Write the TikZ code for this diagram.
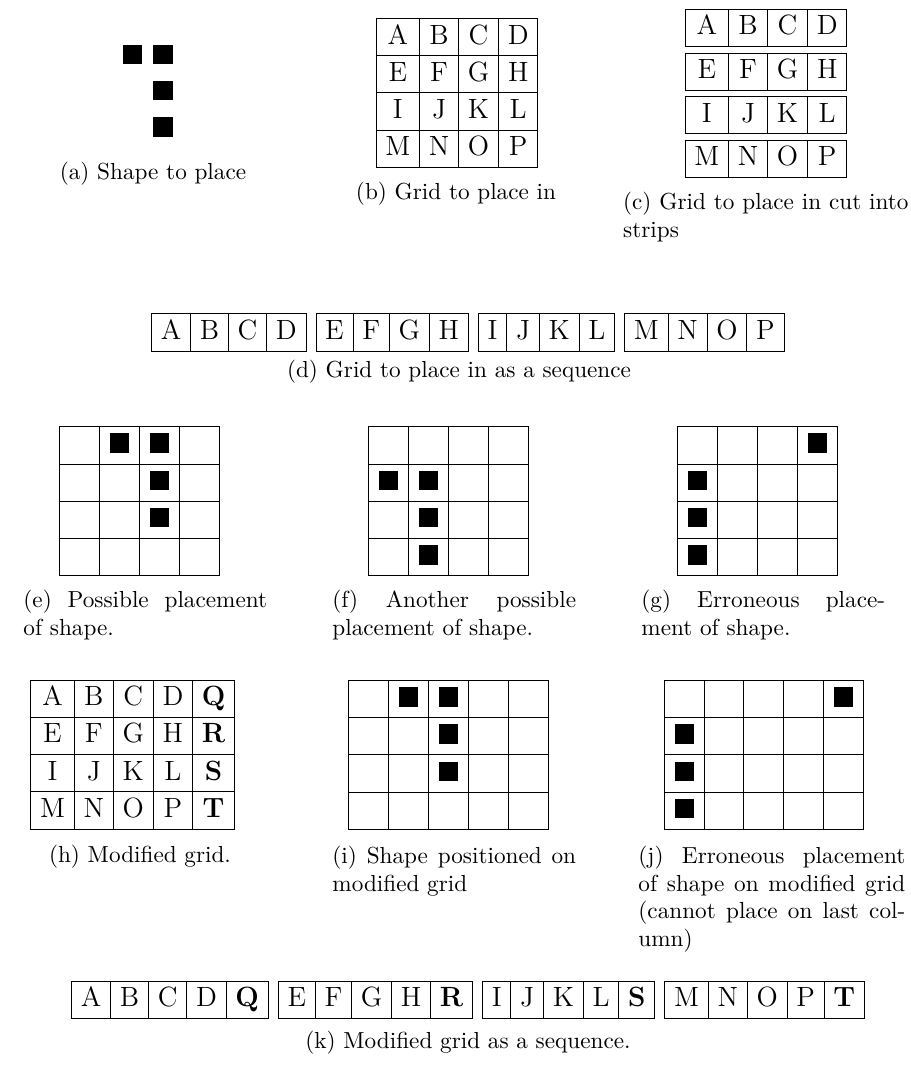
\documentclass[tikz,border=0pt]{standalone}
\usepackage{tikz}
\usetikzlibrary{positioning}

\begin{document}
\begin{tikzpicture}[x=0.431pt, y=-0.431pt,
    cell/.style={draw, line width=0.4pt, inner xsep=4pt, inner ysep=0.5pt,
      text height=10.5pt, text depth=4.5pt, outer sep=0pt,
      font=\fontsize{12}{14.4}\selectfont},
    gcell/.style={cell, inner xsep=0pt},
    col1/.style={minimum width=18.8pt}, col2/.style={minimum width=16.8pt},
    col3/.style={minimum width=17.2pt}, col4/.style={minimum width=17pt},
    col5/.style={minimum width=18pt},
    box/.style={draw, line width=0.4pt},
    subcap/.style={font=\fontsize{10}{12}\selectfont, inner sep=0pt},
    subcapbox/.style={subcap, anchor=north west, align=justify, text width=#1}]
  \useasboundingbox (0,0) rectangle (911,1067);

  % (a) shape to place
  \foreach \x/\y in {122.7/45, 153.3/45, 153.3/81, 153.3/117.3}
    \fill (\x,\y) rectangle +(19.4,19.4);
  \node[subcap, anchor=base] (capA) at (153,179) {(a) Shape to place};

  % (b) grid to place in
  \foreach \row [count=\r] in {{A,B,C,D},{E,F,G,H},{I,J,K,L},{M,N,O,P}} {
    \coordinate (b-\r-0) at (376, 37.15*\r);
    \foreach \l [count=\c, remember=\c as \p (initially 0)] in \row
      \node[gcell, col\c, right=0pt of b-\r-\p] (b-\r-\c) {\l};
  }
  \node[subcap, anchor=base] (capB) at (456,199) {(b) Grid to place in};

  % (c) same grid cut into strips
  \foreach \row [count=\r] in {{A,B,C,D},{E,F,G,H},{I,J,K,L},{M,N,O,P}} {
    \coordinate (c-\r-0) at (685, 43.6*\r-15.6);
    \foreach \l [count=\c, remember=\c as \p (initially 0)] in \row
      \node[gcell, col\c, right=0pt of c-\r-\p] (c-\r-\c) {\l};
  }
  \node[subcapbox=123pt] (capC) at (622.7,191.9) {(c) Grid to place in cut into\linebreak strips};

  % (d) strips laid out as a sequence
  \coordinate (d-0) at (151.5,332.5);
  \foreach \l [count=\i, remember=\i as \p (initially 0)] in {A,...,P} {
    \pgfmathsetmacro\g{(mod(\i,4)==1)*(\i>1)*4.3}
    \node[cell, right=\g pt of d-\p] (d-\i) {\l};
  }
  \node[subcap, anchor=base] (capD) at (459,377) {(d) Grid to place in as a sequence};

  % (e) possible placement
  \foreach \c in {0,...,3} \foreach \r in {0,...,3}
    \draw[box] (59.3+40*\c, 426.7+37.3*\r) rectangle +(40,37.3);
  \foreach \c/\r in {1/0,2/0,2/1,2/2}
    \fill (69.6+40*\c, 433.3+37.3*\r) rectangle +(19.4,19.4);
  \node[subcapbox=105pt] (capE) at (23,589.3) {(e) Possible placement\linebreak of shape.};

  % (f) another possible placement
  \foreach \c in {0,...,3} \foreach \r in {0,...,3}
    \draw[box] (368.3+40*\c, 426.7+37.3*\r) rectangle +(40,37.3);
  \foreach \c/\r in {0/1,1/1,1/2,1/3}
    \fill (378.6+40*\c, 433.3+37.3*\r) rectangle +(19.4,19.4);
  \node[subcapbox=105pt] (capF) at (332,589.3) {(f) Another possible\linebreak placement of shape.};

  % (g) erroneous placement
  \foreach \c in {0,...,3} \foreach \r in {0,...,3}
    \draw[box] (677.3+40*\c, 426.7+37.3*\r) rectangle +(40,37.3);
  \foreach \c/\r in {3/0,0/1,0/2,0/3}
    \fill (687.6+40*\c, 433.3+37.3*\r) rectangle +(19.4,19.4);
  \node[subcapbox=105pt] (capG) at (641,589.3) {(g) Erroneous place-\linebreak ment of shape.};

  % (h) modified grid with an extra column
  \foreach \row [count=\r] in {{A,B,C,D,\textbf{Q}},{E,F,G,H,\textbf{R}},{I,J,K,L,\textbf{S}},{M,N,O,P,\textbf{T}}} {
    \coordinate (h-\r-0) at (30.7, 661.4+37.25*\r);
    \foreach \l [count=\c, remember=\c as \p (initially 0)] in \row
      \node[gcell, col\c, right=0pt of h-\r-\p] (h-\r-\c) {\l};
  }
  \node[subcap, anchor=base] (capH) at (140,862.7) {(h) Modified grid.};

  % (i) shape on modified grid
  \foreach \c in {0,...,4} \foreach \r in {0,...,3}
    \draw[box] (348.3+40*\c, 680.7+37.1*\r) rectangle +(40,37.1);
  \foreach \c/\r in {1/0,2/0,2/1,2/2}
    \fill (358.6+40*\c, 687.3+37.1*\r) rectangle +(19.4,19.4);
  \node[subcapbox=105pt] (capI) at (332,845.3) {(i) Shape positioned on\linebreak modified grid};

  % (j) erroneous placement on modified grid
  \foreach \c in {0,...,4} \foreach \r in {0,...,3}
    \draw[box] (664.3+39.8*\c, 680.7+37.1*\r) rectangle +(39.8,37.1);
  \foreach \c/\r in {4/0,0/1,0/2,0/3}
    \fill (674.5+39.8*\c, 687.3+37.1*\r) rectangle +(19.4,19.4);
  \node[subcapbox=115pt] (capJ) at (638,845.3) {(j) Erroneous placement\linebreak of shape on modified grid\linebreak (cannot place on last col-\linebreak umn)};

  % (k) modified grid as a sequence
  \coordinate (k-0) at (71.7,1000);
  \foreach \l [count=\i, remember=\i as \p (initially 0)] in {A,B,C,D,\textbf{Q},E,F,G,H,\textbf{R},I,J,K,L,\textbf{S},M,N,O,P,\textbf{T}} {
    \pgfmathsetmacro\g{(mod(\i,5)==1)*(\i>1)*4.3}
    \node[cell, right=\g pt of k-\p] (k-\i) {\l};
  }
  \node[subcap, anchor=base] (capK) at (468,1048) {(k) Modified grid as a sequence.};
\end{tikzpicture}
\end{document}
